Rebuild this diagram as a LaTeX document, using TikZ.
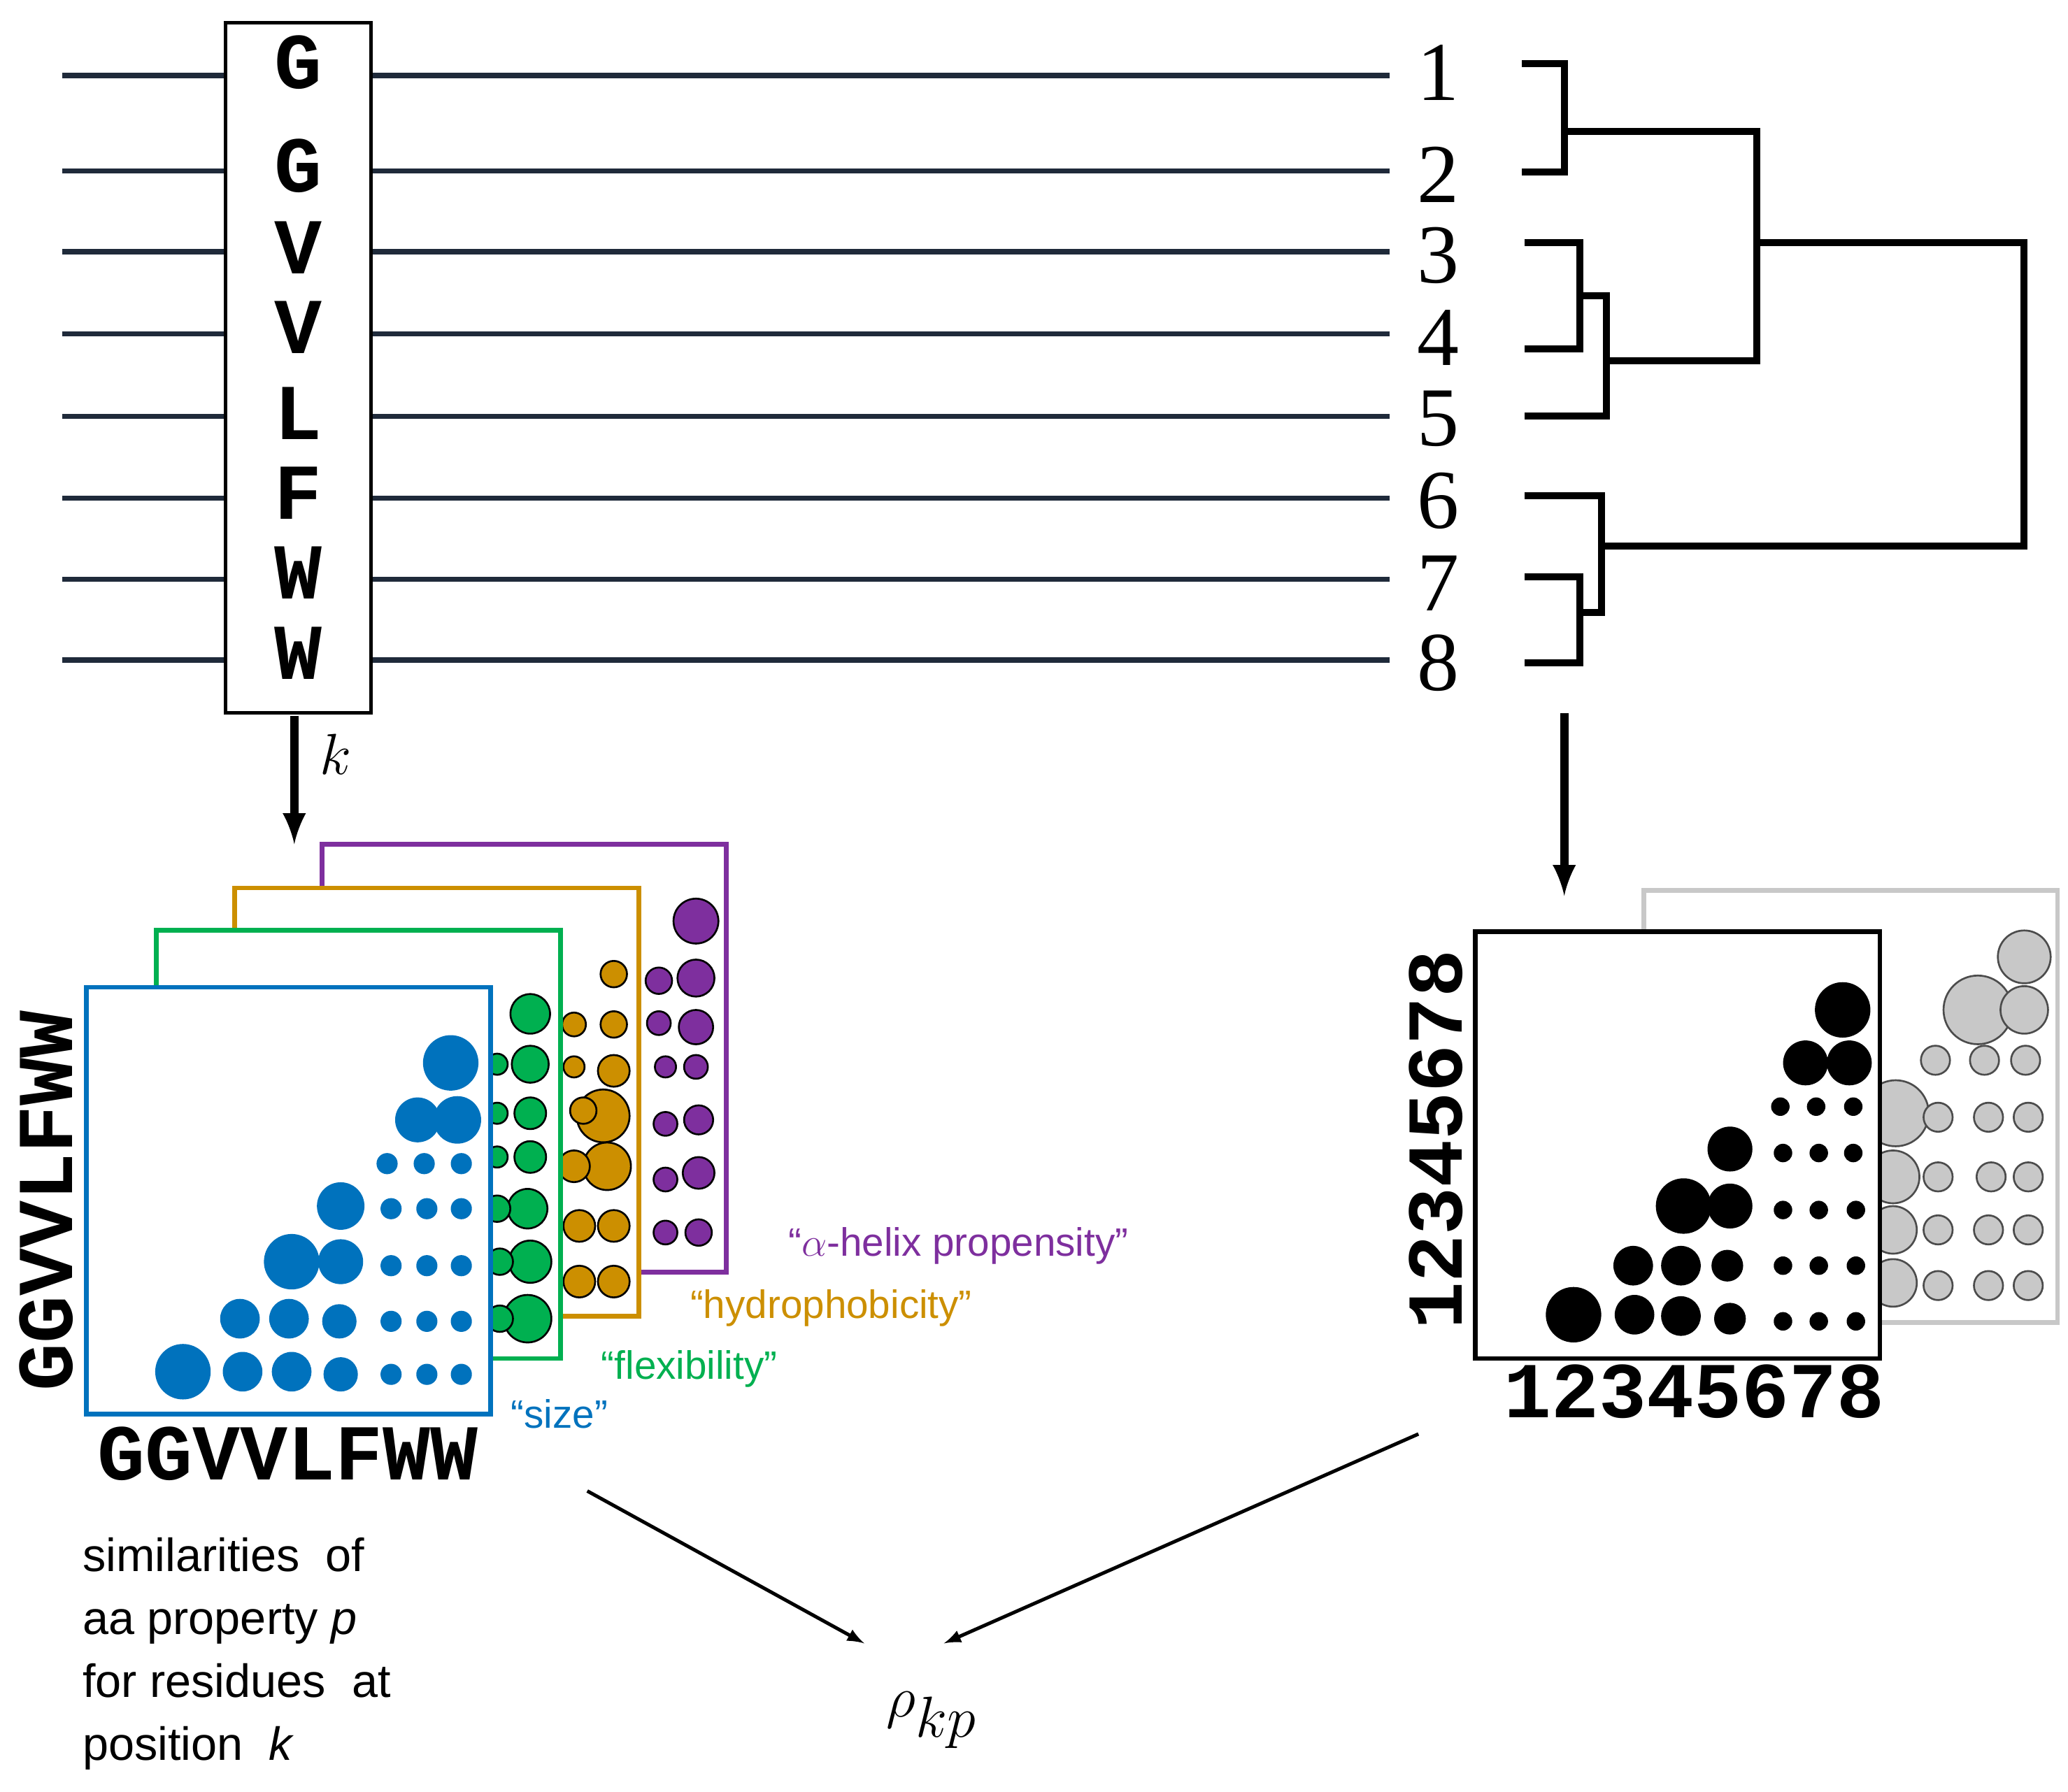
\documentclass[tikz,border=0pt]{standalone}
\usepackage{fontspec}
\setmainfont{Liberation Serif}
\newfontfamily\sansf{Liberation Sans}
\newfontfamily\monof{Liberation Mono}
\usetikzlibrary{positioning}
\definecolor{lineblue}{HTML}{1F2A3A}
\definecolor{sizeblue}{HTML}{0072BD}
\definecolor{flexgreen}{HTML}{00B050}
\definecolor{hydorange}{HTML}{CC8F00}
\definecolor{helixpurple}{HTML}{7E2F9E}
\definecolor{shadegray}{HTML}{C8C8C8}
\tikzset{
  seqline/.style={lineblue, line width=2.2pt},
  tree/.style={black, line width=3pt},
  frame/.style={line width=2pt, fill=white},
  dot/.style={draw=black, line width=0.8pt},
  resletter/.style={font=\monof\bfseries\fontsize{34}{34}\selectfont},
  axislab/.style={font=\monof\bfseries\fontsize{34}{34}\selectfont},
  leafnum/.style={font=\fontsize{36}{36}\selectfont},
  proplab/.style={font=\sansf\fontsize{17}{17}\selectfont},
  bigarrow/.style={-latex, line width=2.5pt},
  thinarrow/.style={-latex, line width=1pt}
}
\begin{document}
\begin{tikzpicture}[x=0.02cm, y=-0.02cm]
\useasboundingbox (0,0) rectangle (1560,1352);

% sequence lines
\foreach \yy in {57,129,190,252,314,376,437,498}
  \draw[seqline] (47,\yy) -- (1048,\yy);
\node[draw, line width=1.5pt, fill=white, minimum width=110*0.02cm, minimum height=521*0.02cm, inner sep=0] (col) at (225,277.5) {};
\foreach \l/\yy [count=\i] in {G/47,G/125,V/187,V/247,L/312,F/372,W/432,W/493}
  \node[resletter] (res\i) at (225,\yy) {\l};
\foreach \n/\yy in {1/55,2/132,3/193,4/255,5/316,6/378,7/440,8/500}
  \node[leafnum] (leaf\n) at (1085,\yy) {\n};

% dendrogram
\draw[tree] (1148,48) -| (1180,130) -- (1148,130);
\draw[tree] (1180,99) -| (1325,272) -- (1212,272);
\draw[tree] (1150,183) -| (1192,263) -- (1150,263);
\draw[tree] (1192,223) -| (1212,314) -- (1150,314);
\draw[tree] (1325,183) -| (1527,412) -- (1208,412);
\draw[tree] (1150,374) -| (1208,462) -- (1192,462);
\draw[tree] (1150,435) -| (1192,500) -- (1150,500);

% arrows down
\coordinate (colbot) at (222,540);
\coordinate (leftin) at (222,637);
\draw[bigarrow, line width=3.5pt] (colbot) -- node[right=6pt, pos=0.3, font=\fontsize{32}{32}\selectfont] {$k$} (leftin);
\coordinate (treebot) at (1180,538);
\coordinate (rightin) at (1180,676);
\draw[bigarrow, line width=3.5pt] (treebot) -- (rightin);

% purple layer
\draw[frame, draw=helixpurple] (243,637) rectangle (548,960);
\foreach \xx/\yy/\r in {525/695/17,525/738/14,525/775/13,525/805/9,527/845/11,527/885/12,527/930/10,
  497/740/10,497/772/9,502/805/8,502/848/9,502/890/9,502/930/9}
  \draw[dot, fill=helixpurple] (\xx,\yy) circle[radius=\r*0.567pt];
% orange layer
\draw[frame, draw=hydorange] (177,670) rectangle (482,993);
\foreach \xx/\yy/\r in {463/735/10,463/773/10,463/808/12,455/842/20,458/880/18,463/925/12,463/967/12,
  433/773/9,433/805/8,440/838/10,433/880/12,437/925/12,437/967/12}
  \draw[dot, fill=hydorange] (\xx,\yy) circle[radius=\r*0.567pt];
% green layer
\draw[frame, draw=flexgreen] (118,702) rectangle (423,1025);
\foreach \xx/\yy/\r in {400/765/15,400/803/14,400/840/12,400/873/12,398/912/15,400/952/16,398/995/18,
  375/803/8,375/840/8,375/873/8,375/912/10,377/952/10,377/995/10}
  \draw[dot, fill=flexgreen] (\xx,\yy) circle[radius=\r*0.567pt];
% blue layer
\draw[frame, draw=sizeblue] (65,745) rectangle (370,1067);
\foreach \xx/\yy/\r in {138/1035/21,183/1035/15,220/1035/15,257/1037/13,295/1037/8,322/1037/8,348/1037/8,
  181/995/15,218/995/15,256/997/13,295/997/8,322/997/8,348/997/8,
  220/952/21,257/952/17,295/955/8,322/955/8,348/955/8,
  257/910/18,295/912/8,322/912/8,348/912/8,
  292/878/8,320/878/8,348/878/8,
  315/845/17,345/845/18,
  340/802/21}
  \fill[sizeblue] (\xx,\yy) circle[radius=\r*0.567pt];
\node[axislab, rotate=90] (rowlabL) at (35,906) {GGVVLFWW};
\node[axislab] (collabL) at (217,1097) {GGVVLFWW};

% property labels
\node[proplab, sizeblue] (psize) at (422,1067) {“size”};
\node[proplab, flexgreen] (pflex) at (520,1033) {“flexibility”};
\node[proplab, hydorange] (phyd) at (627,987) {“hydrophobicity”};
\node[proplab, helixpurple] (phelix) at (723,940) {“$\alpha$-helix propensity”};

% gray layer
\draw[line width=2pt, shadegray, fill=white] (1240,672) rectangle (1552,998);
\foreach \xx/\yy/\r in {1527/722/20,1492/762/26,1527/762/18,1460/800/11,1497/800/11,1528/800/11,
  1430/840/25,1462/843/11,1500/843/11,1530/843/11,
  1428/888/20,1462/888/11,1502/888/11,1530/888/11,
  1428/928/18,1462/928/11,1500/928/11,1530/928/11,
  1428/968/18,1462/970/11,1500/970/11,1530/970/11}
  \draw[dot, draw=black!70, fill=shadegray] (\xx,\yy) circle[radius=\r*0.567pt];
% black layer
\draw[frame, draw=black] (1113,703) rectangle (1418,1025);
\foreach \xx/\yy/\r in {1187/992/21,1233/992/15,1268/993/15,1305/995/12,1345/997/7,1372/997/7,1400/997/7,
  1232/955/15,1268/955/15,1303/955/12,1345/955/7,1372/955/7,1400/955/7,
  1270/910/21,1305/910/17,1345/913/7,1372/913/7,1400/913/7,
  1305/867/17,1345/870/7,1372/870/7,1398/870/7,
  1343/835/7,1370/835/7,1398/835/7,
  1362/802/17,1395/802/17,
  1390/762/21}
  \fill[black] (\xx,\yy) circle[radius=\r*0.567pt];
\node[axislab, rotate=90] (rowlabR) at (1083,860) {12345678};
\node[axislab] (collabR) at (1278,1050) {12345678};

% correlation
\node[font=\fontsize{36}{36}\selectfont] (rho) at (703,1298) {$\rho_{kp}$};
\coordinate (leftout) at (443,1125);
\coordinate (rightout) at (1070,1082);
\draw[thinarrow, line width=1.5pt] (leftout) -- (652,1240);
\draw[thinarrow, line width=1.5pt] (rightout) -- (712,1240);

\node[font=\sansf\fontsize{20}{27}\selectfont, align=left, anchor=north west, inner sep=0] (caption) at (62,1160)
  {similarities\ \ of\\aa property \textit{p}\\for residues\ \ at\\position\ \ \textit{k}};
\end{tikzpicture}
\end{document}
